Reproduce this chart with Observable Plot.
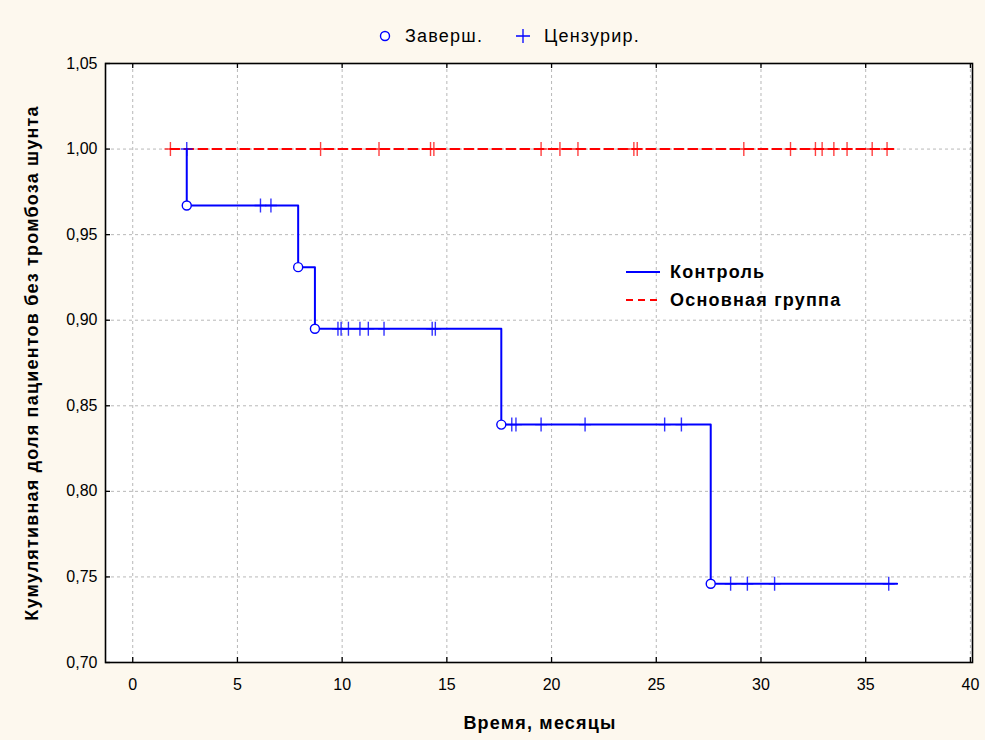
<!DOCTYPE html>
<html><head><meta charset="utf-8">
<script src="https://cdn.jsdelivr.net/npm/d3@7"></script>
<script src="https://cdn.jsdelivr.net/npm/@observablehq/plot@0.6"></script>
<style>
html,body{margin:0;padding:0;background:#fdf8ee;}
#wrap{position:relative;width:985px;height:740px;font-family:"Liberation Sans",Arial,sans-serif;}
.lbl{position:absolute;color:#000;font-size:18px;line-height:20px;letter-spacing:1.2px;white-space:nowrap;}
.b{font-weight:bold;}
</style></head>
<body><div id="wrap"></div>
<script>
// ---- data ----
const xTicks = [0, 5, 10, 15, 20, 25, 30, 35, 40];
const yTicks = [0.70, 0.75, 0.80, 0.85, 0.90, 0.95, 1.00, 1.05];
const yTickLabels = ["0,70", "0,75", "0,80", "0,85", "0,90", "0,95", "1,00", "1,05"];

// Контроль (control) — Kaplan–Meier steps
const controlStartTime = 2.58;
const controlEndTime = 36.5;
const controlEventTimes = [2.58, 7.9, 8.7, 17.6, 27.6];
const controlEventSurv = [0.967, 0.931, 0.895, 0.839, 0.746];
const controlCensorTimes = [2.58, 6.1, 6.6, 9.8, 9.95, 10.3, 10.85, 11.25, 12.0, 14.3, 14.45,
  18.1, 18.3, 19.5, 21.6, 25.4, 26.2, 28.55, 29.35, 30.65, 36.1];

// Основная группа (main group) — no events
const mainStartTime = 1.8;
const mainEndTime = 36.5;
const mainSurv = 1.0;
const mainCensorTimes = [1.8, 8.97, 11.76, 14.22, 14.38, 19.5, 20.4, 21.26, 23.93, 24.09,
  29.18, 31.41, 32.6, 32.92, 33.48, 34.11, 35.31, 36.02];

const xDomain = [-1.3, 40.1];
const yDomain = [0.70, 1.05];

// ---- derived tables ----
function survAt(t) {
  let s = 1.0;
  controlEventTimes.forEach((et, i) => { if (et < t) s = controlEventSurv[i]; });
  return s;
}
const controlLine = [{t: controlStartTime, s: 1.0}]
  .concat(controlEventTimes.map((t, i) => ({t, s: controlEventSurv[i]})))
  .concat([{t: controlEndTime, s: controlEventSurv[controlEventSurv.length - 1]}]);
const controlEvents = controlEventTimes.map((t, i) => ({t, s: controlEventSurv[i]}));
const controlCensor = controlCensorTimes.map(t => ({t, s: survAt(t)}));
const mainLine = [{t: mainStartTime, s: mainSurv}, {t: mainEndTime, s: mainSurv}];
const mainCensor = mainCensorTimes.map(t => ({t, s: mainSurv}));

const crossSymbol = {
  draw(ctx, size) {
    const r = Math.sqrt(size / Math.PI);
    ctx.moveTo(-r * 0.85, 0); ctx.lineTo(r * 0.85, 0);
    ctx.moveTo(0, -r); ctx.lineTo(0, r);
  }
};

const BLUE = "#0000ff", RED = "#ff0000";

const chart = Plot.plot({
  width: 985, height: 740,
  marginLeft: 105, marginRight: 13, marginTop: 63, marginBottom: 78,
  x: {type: "linear", domain: xDomain},
  y: {type: "linear", domain: yDomain},
  style: {background: "transparent", fontFamily: "'Liberation Sans', Arial, sans-serif", fontSize: "16px", color: "#000"},
  marks: [
    Plot.frame({fill: "white", stroke: null}),
    Plot.gridX(xTicks, {stroke: "#b8b8b8", strokeOpacity: 1, strokeDasharray: "3,3"}),
    Plot.gridY(yTicks, {stroke: "#b8b8b8", strokeOpacity: 1, strokeDasharray: "3,3"}),
    Plot.axisX(xTicks, {tickSize: 0, tickPadding: 16, label: null, fontSize: 16, tickFormat: d => String(d)}),
    Plot.axisY(yTicks, {tickSize: 0, tickPadding: 8, label: null, fontSize: 16, tickFormat: d => yTickLabels[yTicks.indexOf(d)]}),
    Plot.ruleX(xTicks, {x: d => d, y1: yDomain[0], y2: yDomain[0], insetTop: -5, stroke: "black", strokeWidth: 1.3}),
    Plot.ruleX(xTicks, {x: d => d, y1: yDomain[1], y2: yDomain[1], insetBottom: -5, stroke: "black", strokeWidth: 1.3}),
    Plot.ruleY(yTicks, {y: d => d, x1: xDomain[0], x2: xDomain[0], insetRight: -5, stroke: "black", strokeWidth: 1.3}),
    Plot.line(mainLine, {x: "t", y: "s", stroke: RED, strokeWidth: 2, strokeDasharray: "9,5"}),
    Plot.line(controlLine, {x: "t", y: "s", stroke: BLUE, strokeWidth: 2, curve: "step-after"}),
    Plot.dot(mainCensor, {x: "t", y: "s", symbol: crossSymbol, r: 7, stroke: RED, strokeWidth: 1.4, strokeOpacity: 0.75}),
    Plot.dot(controlCensor, {x: "t", y: "s", symbol: crossSymbol, r: 7, stroke: BLUE, strokeWidth: 1.4, strokeOpacity: 0.8}),
    Plot.dot(controlEvents, {x: "t", y: "s", r: 4.5, stroke: BLUE, fill: "white", strokeWidth: 1.4}),
    Plot.frame({stroke: "black", strokeWidth: 1.6})
  ]
});
const wrap = document.getElementById("wrap");
wrap.appendChild(chart);
chart.style.position = "absolute"; chart.style.left = "0"; chart.style.top = "0";

function addLabel(html, x, y, cls, extra) {
  const d = document.createElement("div");
  d.className = "lbl " + (cls || "");
  d.innerHTML = html;
  d.style.left = x + "px"; d.style.top = y + "px";
  if (extra) Object.assign(d.style, extra);
  wrap.appendChild(d);
  return d;
}
// top legend
addLabel('<svg width="14" height="14" style="display:block"><circle cx="7" cy="7" r="4.5" fill="white" stroke="#0000ff" stroke-width="1.4"/></svg>', 378, 29);
addLabel("Заверш.", 405, 26);
addLabel('<svg width="18" height="18" style="display:block"><path d="M2,9H16M9,2V16" stroke="#0000ff" stroke-width="1.3"/></svg>', 514, 27);
addLabel("Цензурир.", 544, 26);
// inner legend
addLabel('<svg width="36" height="6" style="display:block"><path d="M0,3H34" stroke="#0000ff" stroke-width="2"/></svg>', 626, 269);
addLabel("Контроль", 670, 262, "b");
addLabel('<svg width="36" height="6" style="display:block"><path d="M0,3H34" stroke="#ff0000" stroke-width="2" stroke-dasharray="7,5"/></svg>', 626, 297);
addLabel("Основная группа", 670, 290, "b");
// axis titles
addLabel("Время, месяцы", 540, 713, "b", {transform: "translateX(-50%)"});
addLabel("Кумулятивная доля пациентов без тромбоза шунта", 32, 363, "b",
  {transform: "translate(-50%,-50%) rotate(-90deg)"});
</script>
</body></html>
